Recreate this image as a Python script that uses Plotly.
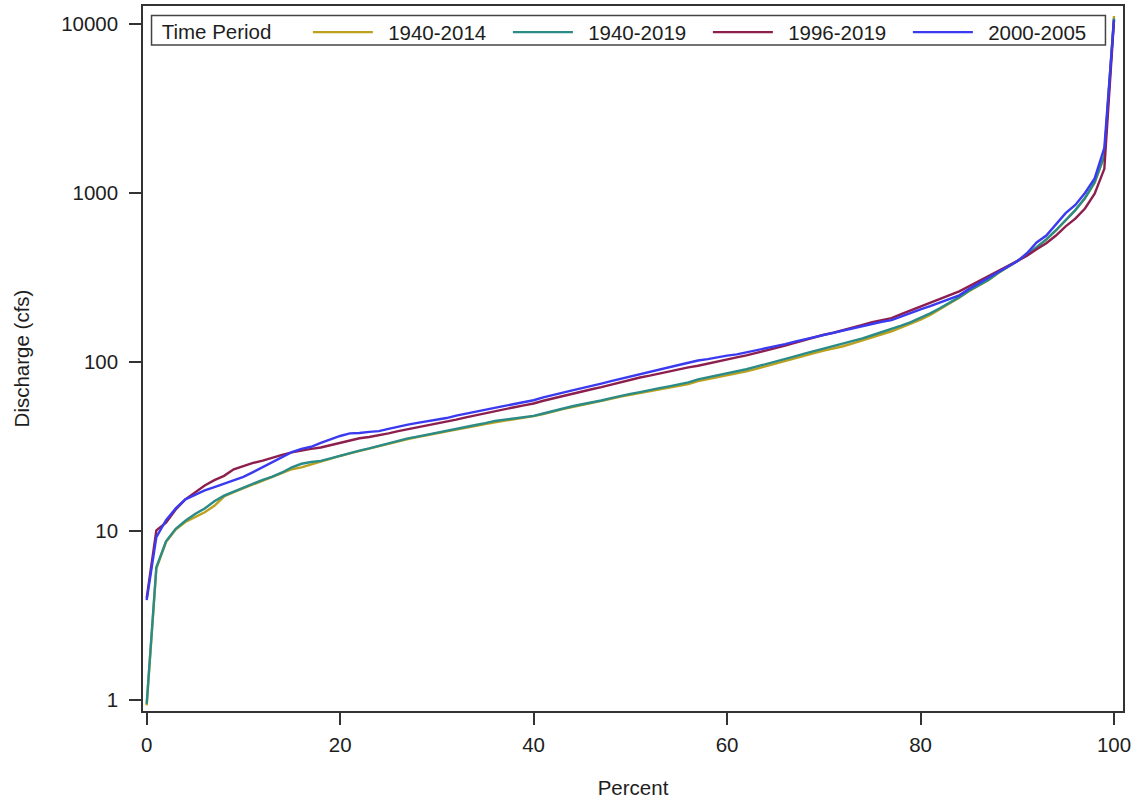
import plotly.graph_objects as go

percent = list(range(0, 101))

flow_1940_2014 = [
    0.93, 6.0, 8.6, 10.2, 11.3, 12.1, 12.9, 14.1, 16.0, 17.0,
    17.9, 19.0, 20.0, 20.9, 22.0, 23.2, 23.8, 24.8, 25.8, 26.8,
    27.8, 28.8, 29.8, 30.6, 31.6, 32.8, 34.0, 35.0, 36.0, 37.0,
    38.0, 39.0, 39.8, 40.8, 42.0, 43.0, 44.0, 44.9, 45.8, 46.8,
    47.8, 49.2, 51.0, 52.6, 54.2, 55.6, 57.0, 58.5, 60.5, 62.5,
    64.0, 65.5, 67.5, 69.0, 70.5, 72.0, 74.0, 77.0, 79.0, 81.0,
    83.0, 85.0, 88.0, 91.0, 94.5, 98.0, 101, 105, 109, 113,
    117, 120, 124, 129, 134, 140, 146, 152, 160, 168,
    178, 190, 205, 222, 240, 262, 282, 305, 335, 362,
    395, 428, 478, 530, 600, 690, 790, 930, 1150, 1650,
    11150,
]

flow_1940_2019 = [
    0.95, 6.1, 8.7, 10.3, 11.5, 12.6, 13.6, 15.0, 16.2, 17.1,
    18.0, 19.1, 20.1, 21.0, 22.2, 23.8, 25.0, 25.6, 26.0, 26.9,
    27.9, 28.9, 29.9, 30.8, 31.9, 33.1, 34.3, 35.3, 36.2, 37.1,
    38.1, 39.1, 40.0, 41.1, 42.4, 43.5, 44.8, 45.6, 46.4, 47.2,
    48.0, 49.6, 51.4, 53.0, 54.7, 56.2, 57.6, 59.2, 61.2, 63.2,
    64.8, 66.4, 68.4, 70.0, 71.8, 73.6, 75.8, 79.0, 81.2, 83.4,
    85.6, 87.6, 90.6, 93.8, 97.4, 101, 104, 108, 112, 116,
    120, 124, 128, 133, 138, 144, 150, 157, 164, 172,
    182, 194, 208, 224, 242, 264, 284, 306, 336, 363,
    396, 430, 480, 532, 602, 692, 792, 935, 1160, 1660,
    10800,
]

flow_1996_2019 = [
    4.0, 10.1, 11.2, 13.4, 15.4, 17.0, 18.6, 20.0, 21.2, 23.2,
    24.2, 25.3, 26.1, 27.2, 28.2, 29.2, 30.0, 30.6, 31.2, 32.2,
    33.4, 34.6, 35.4, 36.0, 36.8, 37.8, 39.0, 40.0, 41.0, 42.0,
    43.2, 44.4, 45.6, 47.0, 48.4, 49.8, 51.2, 52.6, 54.0, 55.4,
    56.8, 59.0, 61.0, 63.0, 65.0, 67.0, 69.0, 71.0, 73.5, 76.0,
    78.5, 81.0, 83.0, 85.5, 88.0, 90.5, 93.0, 95.0, 98.0, 101,
    104, 106.5, 109.5, 113, 117, 121, 125, 130, 135, 140,
    145, 149, 154, 160, 166, 172, 177, 182, 192, 202,
    213, 225, 237, 250, 262, 280, 300, 320, 345, 370,
    395, 425, 465, 505, 560, 635, 705, 810, 990, 1390,
    10500,
]

flow_2000_2005 = [
    3.9, 9.2, 11.6, 13.6, 15.4, 16.4, 17.4, 18.2, 19.0, 20.0,
    20.9, 22.3, 23.9, 25.5, 27.4, 29.3, 30.6, 31.5, 33.2, 35.0,
    36.5, 37.8, 38.0, 38.6, 39.0, 40.2, 41.6, 42.6, 43.6, 44.6,
    45.6, 46.6, 48.2, 49.4, 50.6, 52.0, 53.6, 55.0, 56.4, 57.8,
    59.4, 61.8, 64.0, 66.0, 68.0, 70.0, 72.0, 74.5, 77.0, 79.5,
    82.0, 85.0, 88.0, 91.0, 93.5, 96.0, 99.0, 102, 104, 107,
    109, 111, 114, 117, 120.5, 124, 127.5, 132, 136, 141,
    145.5, 149, 153, 158, 163, 168, 173, 177, 186, 196,
    205, 214, 225, 236, 248, 270, 293, 315, 340, 365,
    395, 440, 510, 560, 650, 760, 850, 1000, 1220, 1850,
    10600,
]

series_names = ["1940-2014", "1940-2019", "1996-2019", "2000-2005"]
series_values = [flow_1940_2014, flow_1940_2019, flow_1996_2019, flow_2000_2005]
series_colors = ["#BBA11E", "#2A8B87", "#8C1F4E", "#3A3AF0"]

y_tick_vals = [1, 10, 100, 1000, 10000]
y_tick_text = ["1", "10", "100", "1000", "10000"]
x_tick_vals = [0, 20, 40, 60, 80, 100]

font_family = "Liberation Sans, Arial, sans-serif"
text_color = "#1e1e1e"
axis_color = "#333333"
fsize = 20.5

fig = go.Figure()
for name, vals, col in zip(series_names, series_values, series_colors):
    fig.add_trace(go.Scatter(
        x=percent, y=vals, mode="lines",
        name="\u2002" + name,
        line=dict(color=col, width=2.4),
    ))

# legend frame (white box drawn over the curves, like the reference)
fig.add_shape(
    type="rect", xref="paper", yref="paper",
    x0=0.0087, x1=0.9821, y0=0.9447, y1=0.9865,
    line=dict(color="#444444", width=1.5),
    fillcolor="white", layer="above",
)

fig.update_layout(
    width=1136, height=801,
    margin=dict(l=143, r=13, t=6, b=90, autoexpand=False),
    paper_bgcolor="white", plot_bgcolor="white",
    font=dict(family=font_family, size=fsize, color=text_color),
    showlegend=True,
    legend=dict(
        orientation="h",
        x=0.017, y=0.991, xanchor="left", yanchor="top",
        bgcolor="rgba(0,0,0,0)",
        borderwidth=0,
        title=dict(text="Time Period     ", font=dict(size=fsize, color=text_color), side="left"),
        font=dict(size=fsize, color=text_color),
        entrywidth=125, entrywidthmode="pixels",
        itemwidth=60,
        tracegroupgap=0,
    ),
)

fig.update_xaxes(
    range=[-0.38, 100.93],
    tickvals=x_tick_vals,
    ticks="outside", ticklen=12, tickwidth=1.5, tickcolor=axis_color,
    ticklabelstandoff=3,
    showline=True, linecolor=axis_color, linewidth=1.5, mirror=True,
    showgrid=False, zeroline=False, automargin=False,
    tickfont=dict(size=fsize, color=text_color),
    title=dict(text="Percent", standoff=25, font=dict(size=fsize, color=text_color)),
)

fig.update_yaxes(
    type="log",
    range=[-0.065, 4.1065],
    tickvals=y_tick_vals, ticktext=y_tick_text,
    ticks="outside", ticklen=12, tickwidth=1.5, tickcolor=axis_color,
    ticklabelstandoff=7,
    showline=True, linecolor=axis_color, linewidth=1.5, mirror=True,
    showgrid=False, zeroline=False, automargin=False,
    tickfont=dict(size=fsize, color=text_color),
    title=dict(text="Discharge (cfs)", standoff=26, font=dict(size=fsize, color=text_color)),
)

fig.write_html(
    "out.html",
    config={"displayModeBar": False},
    post_script="document.body.style.margin='0';",
)
